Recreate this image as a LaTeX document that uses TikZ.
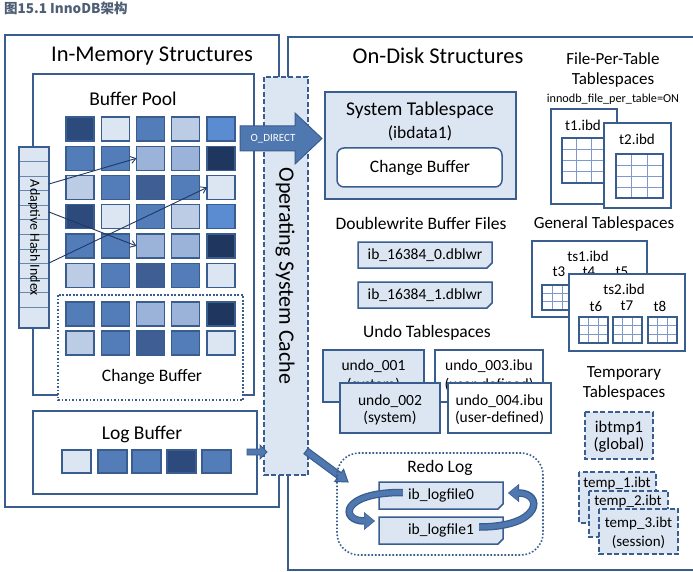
\documentclass[tikz,border=0pt]{standalone}
\usepackage{fontspec}
\setmainfont{Carlito}
\newfontfamily\cjkfont{Noto Sans CJK SC}
\usetikzlibrary{arrows.meta}
\definecolor{bdc}{HTML}{3A5D8F}
\definecolor{cvl}{HTML}{DCE6F2}
\definecolor{clt}{HTML}{BCCCE4}
\definecolor{clm}{HTML}{9BB3D8}
\definecolor{cmd}{HTML}{527DB9}
\definecolor{cbr}{HTML}{5B8CD1}
\definecolor{cdm}{HTML}{3F5F94}
\definecolor{cdk}{HTML}{2D4A7C}
\definecolor{cvd}{HTML}{1F365F}
\definecolor{arrc}{HTML}{4F77B0}
\definecolor{navy}{HTML}{1F3864}
\definecolor{gridl}{HTML}{7E9ACB}
\definecolor{titlec}{HTML}{4E5E74}
\newcommand\fsz[1]{\fontsize{#1}{#1}\selectfont}
% document shape with cut corner: name, x1, y1, x2, y2, text
\newcommand\docbox[6]{%
  \draw[bd,fill=cvl] (#2,#3) -- (#4,#3) -- (#4,{#5-5}) -- ({#4-5},#5) -- (#2,#5) -- cycle;
  \node[txt,font=\fsz{15.5}] (#1) at ({(#2+#4)/2},{(#3+#5)/2}) {#6};}
% table grid: x1, y1, x2, y2, rows
\newcommand\tgrid[5]{%
  \fill[white] (#1,#2) rectangle (#3,#4);
  \draw[gridl,line width=0.9pt] ({#1+(#3-#1)/3},#2) -- ({#1+(#3-#1)/3},#4)
       ({#1+2*(#3-#1)/3},#2) -- ({#1+2*(#3-#1)/3},#4);
  \foreach \j in {1,...,#5}{\draw[gridl,line width=0.9pt] (#1,{#2+(#4-#2)*\j/#5}) -- (#3,{#2+(#4-#2)*\j/#5});}
  \draw[draw=bdc,line width=1.5pt] (#1,#2) rectangle (#3,#4);}
\begin{document}
\begin{tikzpicture}[x=1pt,y=-1pt,
  bd/.style={draw=bdc,line width=1.5pt},
  sqs/.style={draw=bdc,line width=1.2pt,minimum width=28pt,minimum height=24pt,inner sep=0pt,outer sep=0pt,anchor=north west},
  lsq/.style={sqs,minimum width=29pt,minimum height=23pt},
  txt/.style={inner sep=0pt,text=black},
  dashbox/.style={draw=bdc,line width=1.5pt,dash pattern=on 5pt off 2.5pt,fill=cvl},
  dotbox/.style={draw=bdc,line width=1.6pt,dash pattern=on 1.6pt off 1.9pt},
  ahiarr/.style={draw=navy,line width=0.9pt,-{Straight Barb[length=5pt,width=7pt]}},
  blockarr/.style={draw=bdc,line width=1pt,fill=arrc},
]
\useasboundingbox (0,0) rectangle (693,572);
\fill[white] (0,0) rectangle (693,572);
\node[anchor=west,inner sep=0pt,text=titlec,font=\cjkfont\bfseries\fsz{13.5}] (title) at (4,8) {图15.1 InnoDB架构};

% ---------------- In-Memory ----------------
\draw[bd] (5,35) rectangle (279,507);
\node[txt,font=\fsz{22.5}] (memt) at (152,56) {In-Memory Structures};
\draw[bd] (33,74) rectangle (254,395);
\node[txt,font=\fsz{19.5}] (bpt) at (133,99) {Buffer Pool};
\draw[dotbox,fill=white] (58,295) rectangle (243,400);
\node[txt,font=\fsz{17.5}] (cbt) at (152,377) {Change Buffer};
\foreach \n/\y/\a/\b/\c/\d/\e in {1/117/cdk/cvl/cmd/clt/cbr, 2/146.3/cmd/cmd/clm/clm/cvd, 3/175.5/clt/cmd/cdm/cmd/cvl,
  4/204.8/cdk/cvl/cmd/clt/cbr, 5/234/cmd/cmd/clm/clm/cvd, 6/263.2/clt/cmd/cdm/cmd/cvl,
  7/302/cmd/cmd/clm/clm/cvd, 8/331/clt/cmd/cdm/cmd/cvl}{
  \node[sqs,fill=\a] (s\n-1) at (66,\y) {};
  \node[sqs,fill=\b] (s\n-2) at (101.3,\y) {};
  \node[sqs,fill=\c] (s\n-3) at (136.5,\y) {};
  \node[sqs,fill=\d] (s\n-4) at (171.8,\y) {};
  \node[sqs,fill=\e] (s\n-5) at (207,\y) {};
}
% Adaptive hash index
\draw[fill=cvl,draw=bdc,line width=1.3pt] (19,147) rectangle (49,328);
\foreach \k in {1,...,11}{\draw[bdc!75,line width=0.7pt] (19,{147+14.55*\k}) -- (49,{147+14.55*\k});}
\draw[draw=bdc,line width=1.3pt] (19,147) rectangle (49,328);
\node[txt,rotate=-90,font=\fsz{14}] (ahit) at (34,238) {Adaptive Hash Index};
\coordinate (h1) at (49,184);
\coordinate (h2) at (49,212);
\coordinate (h3) at (49,263);
\draw[ahiarr] (h1) -- (s2-3.west);
\draw[ahiarr] (h2) -- (s5-3.west);
\draw[ahiarr] (h3) -- (s3-5.west);
% Log buffer
\draw[bd] (33,411) rectangle (257,494);
\node[txt,font=\fsz{19.5}] (lbt) at (142,434) {Log Buffer};
\foreach \i/\x/\c in {1/62/cvl,2/98/cmd,3/132/cmd,4/167/cdk,5/202/cmd}{
  \node[lsq,fill=\c] (lb\i) at (\x,450) {};}

% ---------------- On-Disk ----------------
\draw[bd] (288,37) rectangle (700,570);
\node[txt,font=\fsz{22.5}] (diskt) at (438,56) {On-Disk Structures};

% OS cache
\draw[dashbox] (264,77) rectangle (308,475);
\node[txt,rotate=-90,font=\fsz{22}] (osct) at (285,276) {Operating System Cache};

% O_DIRECT arrow
\draw[blockarr] (240,126) -- (295,126) -- (295,113) -- (322,138.5) -- (295,164) -- (295,151) -- (240,151) -- cycle;
\node[txt,text=white,font=\fsz{11}] (odt) at (273,139) {O\_DIRECT};
% Log buffer -> OS cache
\draw[blockarr,line width=0.8pt] (247,449) -- (260,449) -- (260,445) -- (267,452) -- (260,459) -- (260,455) -- (247,455) -- cycle;
% OS cache -> Redo log
\draw[blockarr] (303.9,453.8) -- (337.1,478.3) -- (334.7,481.5) -- (348,482) -- (343.6,469.4) -- (341.2,472.7) -- (308.1,448.2) -- cycle;

% System tablespace
\draw[bd,fill=cvl] (325,92) rectangle (516,199);
\node[txt,font=\fsz{19.5}] (syst) at (420,110) {System Tablespace};
\node[txt,font=\fsz{17.5}] (ibd1) at (420,133) {(ibdata1)};
\draw[bd,fill=white,rounded corners=7pt] (337,148) rectangle (502,187);
\node[txt,font=\fsz{17.5}] (scb) at (420,168) {Change Buffer};

% Doublewrite
\node[txt,font=\fsz{17.5}] (dwt) at (421,223) {Doublewrite Buffer Files};
\docbox{dw0}{358}{242}{492}{268}{ib\_16384\_0.dblwr}
\docbox{dw1}{358}{282}{492}{308}{ib\_16384\_1.dblwr}

% Undo
\node[txt,font=\fsz{17.5}] (undot) at (427,333) {Undo Tablespaces};
\draw[bd,fill=cvl] (323,350) rectangle (424,402);
\node[txt,font=\fsz{15.5}] (u1a) at (373.5,366) {undo\_001};
\node[txt,font=\fsz{15.5}] (u1b) at (373.5,385) {(system)};
\draw[bd,fill=white] (435,350) rectangle (543,402);
\node[txt,font=\fsz{15.5}] (u3a) at (489,366) {undo\_003.ibu};
\node[txt,font=\fsz{15.5}] (u3b) at (489,385) {(user-defined)};
\draw[bd,fill=cvl] (340,383) rectangle (440,433);
\node[txt,font=\fsz{15.5}] (u2a) at (390,401) {undo\_002};
\node[txt,font=\fsz{15.5}] (u2b) at (390,418) {(system)};
\draw[bd,fill=white] (448,383) rectangle (551,433);
\node[txt,font=\fsz{15.5}] (u4a) at (499.5,401) {undo\_004.ibu};
\node[txt,font=\fsz{15.5}] (u4b) at (499.5,418) {(user-defined)};

% Redo log
\draw[dotbox,rounded corners=22pt] (337,453) rectangle (543,555);
\node[txt,font=\fsz{17.5}] (redot) at (440,468) {Redo Log};
\docbox{lf0}{379}{482}{503}{509}{ib\_logfile0}
\docbox{lf1}{379}{517}{503}{544}{ib\_logfile1}
\draw[bdc,line width=7.5pt,-{Triangle[length=11pt,width=18pt,line width=0.5pt]}] (lf0.west) ++(-5,-3) .. controls (340,492) and (340,521) .. (375,521);
\draw[arrc,line width=5pt,-{Triangle[length=9pt,width=15pt,line width=0.5pt]}] (lf0.west) ++(-5,-3) .. controls (340,492) and (340,521) .. (374,521);
\draw[bdc,line width=7.5pt,-{Triangle[length=11pt,width=18pt,line width=0.5pt]}] (lf1.east) ++(5,-3.5) .. controls (543,527) and (543,493) .. (508,493);
\draw[arrc,line width=5pt,-{Triangle[length=9pt,width=15pt,line width=0.5pt]}] (lf1.east) ++(5,-3.5) .. controls (543,527) and (543,493) .. (509,493);

% File-per-table
\node[txt,font=\fsz{17}] (fpt1) at (613,59) {File-Per-Table};
\node[txt,font=\fsz{17}] (fpt2) at (613,80) {Tablespaces};
\node[txt,font=\fsz{12.2}] (fpt3) at (613,99) {innodb\_file\_per\_table=ON};
\draw[bd,fill=white] (551,109) rectangle (617,204);
\node[txt,font=\fsz{15}] (t1t) at (583,125) {t1.ibd};
\tgrid{562}{138}{606}{183}{4}
\draw[bd,fill=white] (604,123) rectangle (671,208);
\node[txt,font=\fsz{15}] (t2t) at (637,139) {t2.ibd};
\tgrid{616}{154}{663}{198}{4}

% General tablespaces
\node[txt,font=\fsz{17}] (gent) at (604,224) {General Tablespaces};
\draw[bd,fill=white] (532,241) rectangle (647,317);
\node[txt,font=\fsz{15}] (ts1t) at (588,256) {ts1.ibd};
\node[txt,font=\fsz{15}] (t3t) at (559,272) {t3};
\node[txt,font=\fsz{15}] (t4t) at (589,272) {t4};
\node[txt,font=\fsz{15}] (t5t) at (622,272) {t5};
\tgrid{542}{285}{572}{310}{3}
\draw[bd,fill=white] (569,274) rectangle (685,351);
\node[txt,font=\fsz{15}] (ts2t) at (624,289) {ts2.ibd};
\node[txt,font=\fsz{15}] (t6t) at (596,306) {t6};
\node[txt,font=\fsz{15}] (t7t) at (627,306) {t7};
\node[txt,font=\fsz{15}] (t8t) at (660,306) {t8};
\tgrid{579}{317}{608}{343}{3}
\tgrid{613}{317}{642}{343}{3}
\tgrid{648}{317}{677}{343}{3}

% Temporary tablespaces
\node[txt,font=\fsz{17}] (tmpt1) at (624,373) {Temporary};
\node[txt,font=\fsz{17}] (tmpt2) at (624,393) {Tablespaces};
\draw[dashbox] (585,412) rectangle (653,459);
\node[txt,font=\fsz{16.5}] (ibt1) at (619,428) {ibtmp1};
\node[txt,font=\fsz{16.5}] (ibt2) at (619,445) {(global)};
\draw[dashbox] (579,472) rectangle (656,523);
\node[txt,font=\fsz{15}] (tp1) at (617,483) {temp\_1.ibt};
\draw[dashbox] (589,491) rectangle (668,537);
\node[txt,font=\fsz{15}] (tp2) at (628,501) {temp\_2.ibt};
\draw[dashbox] (599,509) rectangle (678,554);
\node[txt,font=\fsz{15}] (tp3a) at (638.5,523) {temp\_3.ibt};
\node[txt,font=\fsz{15}] (tp3b) at (638.5,542) {(session)};
\end{tikzpicture}
\end{document}
